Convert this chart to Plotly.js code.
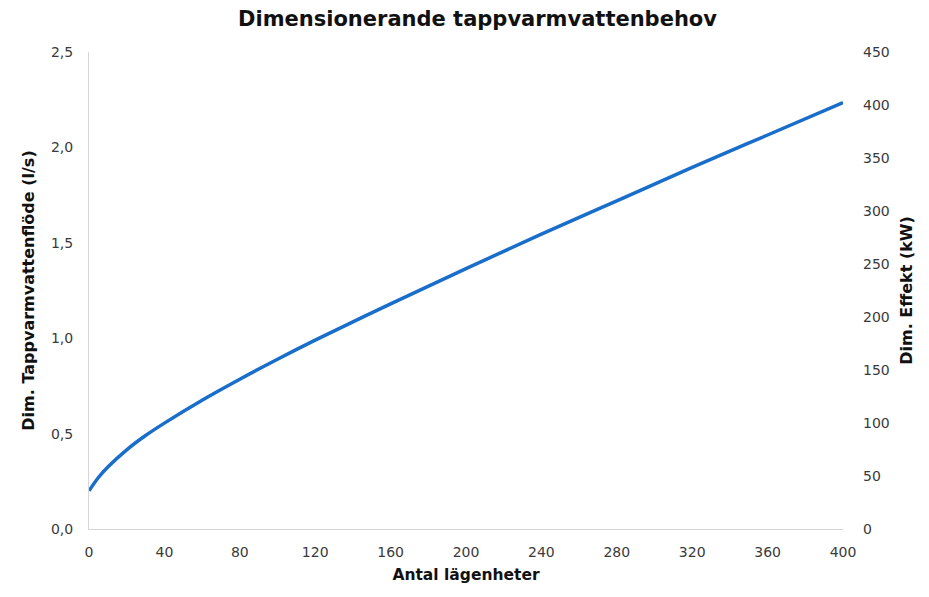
<!DOCTYPE html>
<html>
<head>
<meta charset="utf-8">
<script src="https://cdn.plot.ly/plotly-3.0.1.min.js"></script>
<style>html,body{margin:0;padding:0;background:#fff;}#chart{width:929px;height:597px;}</style>
</head>
<body>
<div id="chart"></div>
<script>
const apartments = [0, 5, 10, 20, 30, 40, 60, 80, 100, 120, 160, 200, 240, 280, 320, 360, 400];
const flowLps = [0.20, 0.27, 0.325, 0.415, 0.49, 0.555, 0.675, 0.785, 0.89, 0.99, 1.18, 1.365, 1.545, 1.72, 1.895, 2.065, 2.235];
const xTicks = [0, 40, 80, 120, 160, 200, 240, 280, 320, 360, 400];
const leftTicks = [0, 0.5, 1.0, 1.5, 2.0, 2.5];
const rightTicks = [0, 50, 100, 150, 200, 250, 300, 350, 400, 450];

const font = '"DejaVu Sans", Verdana, sans-serif';
const traces = [{
  x: apartments, y: flowLps, type: 'scatter', mode: 'lines',
  line: {color: '#1a6ecb', width: 3.5, shape: 'spline', smoothing: 1},
  hoverinfo: 'skip', showlegend: false
}, {
  x: [], y: [], type: 'scatter', mode: 'lines', yaxis: 'y2',
  hoverinfo: 'skip', showlegend: false
}];
const layout = {
  width: 929, height: 597,
  margin: {l: 89, r: 86, t: 52, b: 68},
  paper_bgcolor: '#ffffff', plot_bgcolor: '#ffffff',
  separators: ', ',
  showlegend: false,
  font: {family: font, color: '#333333', size: 13},
  title: {text: '<b>Dimensionerande tappvarmvattenbehov</b>', x: 0.514, xanchor: 'center', y: 0.968, yanchor: 'middle',
          font: {family: font, size: 21, color: '#111111'}},
  xaxis: {range: [0, 400], tickvals: xTicks, showgrid: false, zeroline: false,
          showline: true, linecolor: '#d6d6d6', linewidth: 1, ticks: '', ticklabelstandoff: 10,
          tickfont: {size: 14, color: '#3a3a3a'},
          title: {text: '<b>Antal lägenheter</b>', standoff: 10, font: {size: 15.5, color: '#111'}}},
  yaxis: {range: [0, 2.5], tickvals: leftTicks, tickformat: '.1f', showgrid: false, zeroline: false,
          showline: true, linecolor: '#d6d6d6', linewidth: 1, ticks: '', ticklabelstandoff: 12,
          tickfont: {size: 14, color: '#3a3a3a'},
          title: {text: '<b>Dim. Tappvarmvattenflöde (l/s)</b>', standoff: 12, font: {size: 16, color: '#111'}}},
  yaxis2: {range: [0, 450], tickvals: rightTicks, overlaying: 'y', side: 'right', showgrid: false, zeroline: false,
           showline: false, ticks: '', ticklabelstandoff: 19,
           tickfont: {size: 14, color: '#3a3a3a'},
           title: {text: '<b>Dim. Effekt (kW)</b>', standoff: 12, font: {size: 16, color: '#111'}}}
};
Plotly.newPlot('chart', traces, layout, {displayModeBar: false, staticPlot: true});
</script>
</body>
</html>
